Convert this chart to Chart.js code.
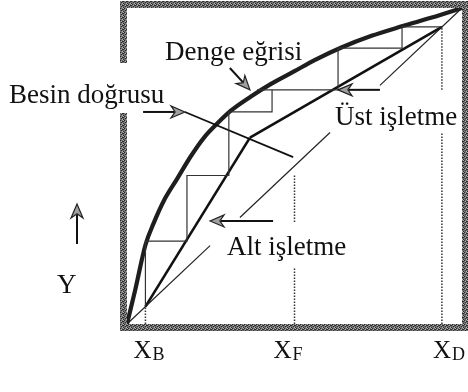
<!DOCTYPE html>
<html>
<head>
<meta charset="utf-8">
<script src="https://cdn.jsdelivr.net/npm/chart.js@4.4.1/dist/chart.umd.min.js"></script>
<style>
html, body { margin: 0; padding: 0; background: #fff; }
#kutu { width: 468px; height: 392px; }
</style>
</head>
<body>
<div id="kutu"><canvas id="mccabe" width="468" height="392"></canvas></div>
<script>
// dip, besleme ve tepe kompozisyonları
var xB = 0.055, xF = 0.5, xD = 0.94;

// denge eğrisi
var dengeX = [0, 0.025, 0.055, 0.08, 0.11, 0.15, 0.19, 0.23, 0.27, 0.31, 0.37, 0.43, 0.5, 0.56, 0.64, 0.73, 0.82, 0.91, 1];
var dengeY = [0, 0.11, 0.25, 0.32, 0.39, 0.46, 0.53, 0.59, 0.635, 0.675, 0.72, 0.76, 0.80, 0.835, 0.875, 0.912, 0.942, 0.97, 1];

// işletme doğrularının kesişimi
var kesisimX = 0.367, kesisimY = 0.59;

// besin doğrusu
var besinX = [0.173, 0.496];
var besinY = [0.671, 0.528];

// kademeler (xD'den xB'ye)
var basamakX = [xD, 0.821, 0.821, 0.630, 0.630, 0.388, 0.433, 0.433, 0.304, 0.304, 0.179, 0.179, xB, xB];
var basamakY = [xD, 0.940, 0.873, 0.873, 0.741, 0.741, 0.741, 0.671, 0.671, 0.470, 0.470, 0.262, 0.262, xB];

// y=x köşegeni, yazılar için aralıklı
var kosegenParca = [[0, 0.248], [0.337, 0.606], [0.755, 1]];

// kesikli dikey çizgiler: x değeri ve y aralıkları
var dikeyX = [xB, xF, xD];
var dikeyParca = [[[0, xB]], [[0, 0.180], [0.323, 0.472]], [[0, 0.604], [0.741, 0.937]]];

// eksen etiketleri
var altIndis = ['B', 'F', 'D'];

// oklar: [başlangıç x, y, uç x, y]
var oklar = [
  [0.307, 0.810, 0.367, 0.741],
  [0.048, 0.671, 0.173, 0.671],
  [0.755, 0.741, 0.630, 0.741],
  [0.436, 0.326, 0.248, 0.326]
];

function noktalar(xs, ys) {
  return xs.map(function (x, i) { return { x: x, y: ys[i] }; });
}

function cizgi(data, renk, kalinlik, ek) {
  var ds = {
    data: data,
    showLine: true,
    borderColor: renk,
    borderWidth: kalinlik,
    pointRadius: 0,
    fill: false,
    clip: false
  };
  for (var k in ek) ds[k] = ek[k];
  return ds;
}

var datasets = [];
kosegenParca.forEach(function (p) {
  datasets.push(cizgi(noktalar(p, p), '#222', 1.2));
});
dikeyX.forEach(function (x, i) {
  dikeyParca[i].forEach(function (p) {
    datasets.push(cizgi(noktalar([x, x], p), '#333', 1.5, { borderDash: [1.5, 1.5] }));
  });
});
datasets.push(cizgi(noktalar(basamakX, basamakY), '#333', 1.2));
datasets.push(cizgi(noktalar(besinX, besinY), '#111', 1.8));
datasets.push(cizgi(noktalar([xB, kesisimX], [xB, kesisimY]), '#111', 2.6));
datasets.push(cizgi(noktalar([kesisimX, xD], [kesisimY, xD]), '#111', 2.6));
datasets.push(cizgi(noktalar(dengeX, dengeY), '#1e1e1e', 4.2, { cubicInterpolationMode: 'monotone' }));
datasets.push(cizgi(noktalar(dengeX, dengeY), '#7a7a7a', 1.2, { cubicInterpolationMode: 'monotone' }));

// çerçeve için benekli gri desen
function benekDesen(ctx) {
  var c = document.createElement('canvas');
  c.width = 4; c.height = 4;
  var g = c.getContext('2d');
  g.fillStyle = '#727272';
  g.fillRect(0, 0, 4, 4);
  g.fillStyle = '#2a2a2a';
  [[0, 0], [2, 1], [1, 2], [3, 3], [3, 1]].forEach(function (p) { g.fillRect(p[0], p[1], 1, 1); });
  g.fillStyle = '#b0b0b0';
  [[3, 0], [1, 1], [2, 3]].forEach(function (p) { g.fillRect(p[0], p[1], 1, 1); });
  return ctx.createPattern(c, 'repeat');
}

function okCiz(ctx, x1, y1, x2, y2) {
  var a = Math.atan2(y2 - y1, x2 - x1);
  var boy = 14, gen = 6;
  var bx = x2 - Math.cos(a) * boy * 0.75, by = y2 - Math.sin(a) * boy * 0.75;
  ctx.save();
  ctx.strokeStyle = '#111';
  ctx.lineWidth = 2;
  ctx.beginPath();
  ctx.moveTo(x1, y1);
  ctx.lineTo(bx, by);
  ctx.stroke();
  ctx.translate(x2, y2);
  ctx.rotate(a);
  ctx.beginPath();
  ctx.moveTo(0, 0);
  ctx.lineTo(-boy, -gen);
  ctx.lineTo(-boy * 0.7, 0);
  ctx.lineTo(-boy, gen);
  ctx.closePath();
  ctx.fillStyle = '#a0a0a0';
  ctx.fill();
  ctx.lineWidth = 1.2;
  ctx.strokeStyle = '#222';
  ctx.stroke();
  ctx.restore();
}

var cizimler = {
  id: 'cizimler',
  afterDatasetsDraw: function (chart) {
    var ctx = chart.ctx, sx = chart.scales.x, sy = chart.scales.y;
    var a = chart.chartArea;

    // çerçeve (solda yazı için boşluk)
    ctx.save();
    ctx.strokeStyle = benekDesen(ctx);
    ctx.lineWidth = 7;
    ctx.lineJoin = 'miter';
    ctx.beginPath();
    ctx.moveTo(a.left - 3.5, 113);
    ctx.lineTo(a.left - 3.5, a.bottom + 3.5);
    ctx.lineTo(a.right + 3.5, a.bottom + 3.5);
    ctx.lineTo(a.right + 3.5, a.top - 3.5);
    ctx.lineTo(a.left - 3.5, a.top - 3.5);
    ctx.lineTo(a.left - 3.5, 63);
    ctx.stroke();
    ctx.restore();

    oklar.forEach(function (o) {
      okCiz(ctx, sx.getPixelForValue(o[0]), sy.getPixelForValue(o[1]),
        sx.getPixelForValue(o[2]), sy.getPixelForValue(o[3]));
    });
    okCiz(ctx, 77, 244, 77, 204);

    ctx.save();
    ctx.fillStyle = '#111';
    ctx.textAlign = 'left';
    ctx.textBaseline = 'alphabetic';
    ctx.font = '27px "Liberation Serif"';
    ctx.fillText('Denge eğrisi', 165, 60);
    ctx.fillText('Besin doğrusu', 9, 103);
    ctx.fillText('Üst işletme', 335, 125);
    ctx.fillText('Alt işletme', 227, 255);
    ctx.fillText('Y', 57, 293);

    var kayma = [-12, -21, -9];
    dikeyX.forEach(function (x, i) {
      var px = sx.getPixelForValue(x) + kayma[i];
      ctx.font = '25px "Liberation Serif"';
      ctx.fillText('X', px, 358);
      var w = ctx.measureText('X').width;
      ctx.font = '18px "Liberation Serif"';
      ctx.fillText(altIndis[i], px + w + 1, 360);
    });
    ctx.restore();
  }
};

new Chart(document.getElementById('mccabe').getContext('2d'), {
  type: 'scatter',
  data: { datasets: datasets },
  options: {
    responsive: false,
    animation: false,
    layout: { padding: { left: 127, top: 8, right: 6, bottom: 68 } },
    scales: {
      x: { type: 'linear', min: 0, max: 1, display: false },
      y: { type: 'linear', min: 0, max: 1, display: false }
    },
    plugins: { legend: { display: false }, tooltip: { enabled: false } }
  },
  plugins: [cizimler]
});
</script>
</body>
</html>
